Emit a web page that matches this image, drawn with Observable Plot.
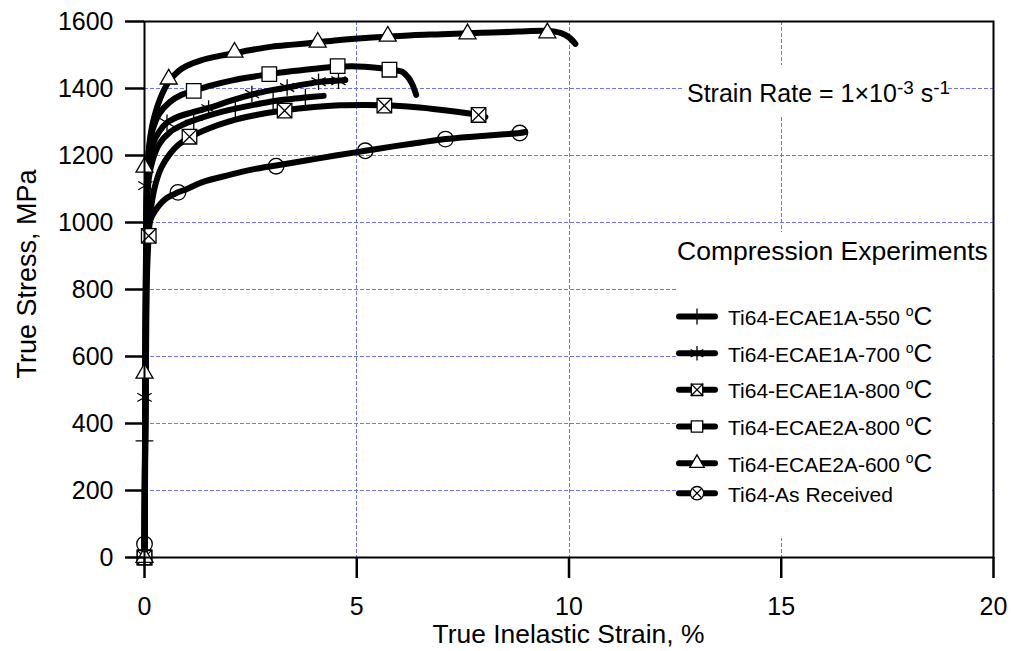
<!DOCTYPE html>
<html><head><meta charset="utf-8">
<script src="https://cdn.jsdelivr.net/npm/d3@7"></script>
<script src="https://cdn.jsdelivr.net/npm/@observablehq/plot@0.6"></script>
<style>body{margin:0;background:#fff}</style>
</head><body><div id="chart"></div>
<script>
// ---------- data ----------
const seriesNames = ["Ti64-ECAE1A-550", "Ti64-ECAE1A-700", "Ti64-ECAE1A-800", "Ti64-ECAE2A-800", "Ti64-ECAE2A-600", "Ti64-As Received"];
const seriesSymbols = ["plus", "asterisk", "crossSquare", "square", "triangle", "circleTimes"];
const seriesUnits = [" \u00b0C", " \u00b0C", " \u00b0C", " \u00b0C", " \u00b0C", ""];

const strain550 = [0, 0.02, 0.04, 0.06, 0.1, 0.2, 0.35, 0.6, 0.9, 1.16, 1.6, 2.14, 2.6, 3.03, 3.4, 3.79, 4.22];
const stress550 = [0, 500, 900, 1040, 1130, 1190, 1235, 1270, 1292, 1305, 1323, 1340, 1352, 1362, 1368, 1373, 1378];
const mkStrain550 = [0, 0, 1.16, 2.14, 3.03, 3.79];
const mkStress550 = [0, 348, 1305, 1340, 1362, 1373];

const strain700 = [0, 0.02, 0.04, 0.07, 0.12, 0.2, 0.35, 0.53, 0.8, 1.1, 1.51, 2.0, 2.53, 3.0, 3.36, 3.8, 4.1, 4.5, 4.73];
const stress700 = [0, 500, 950, 1110, 1190, 1235, 1272, 1298, 1316, 1328, 1342, 1362, 1382, 1395, 1403, 1413, 1419, 1423, 1425];
const mkStrain700 = [0, 0, 0.02, 0.53, 1.51, 2.53, 3.36, 4.1, 4.57];
const mkStress700 = [0, 478, 1110, 1298, 1340, 1384, 1403, 1420, 1423];

const strain1A800 = [0, 0.03, 0.06, 0.1, 0.15, 0.25, 0.4, 0.6, 0.8, 1.06, 1.5, 2.0, 2.6, 3.3, 4.0, 4.6, 5.2, 5.65, 6.2, 6.8, 7.4, 7.87, 8.03];
const stress1A800 = [0, 500, 850, 960, 1040, 1110, 1165, 1205, 1232, 1254, 1280, 1302, 1320, 1335, 1345, 1350, 1351, 1350, 1346, 1339, 1330, 1321, 1315];
const mkStrain1A800 = [0, 0.1, 1.06, 3.3, 5.65, 7.87];
const mkStress1A800 = [0, 960, 1256, 1334, 1349, 1321];

const strain2A800 = [0, 0.02, 0.04, 0.07, 0.12, 0.2, 0.35, 0.6, 0.85, 1.16, 1.6, 2.1, 2.6, 2.94, 3.5, 4.0, 4.55, 5.0, 5.4, 5.77, 6.07, 6.2, 6.3, 6.4];
const stress2A800 = [0, 550, 1000, 1150, 1230, 1280, 1325, 1360, 1380, 1393, 1410, 1425, 1436, 1443, 1452, 1459, 1465, 1466, 1463, 1457, 1450, 1435, 1415, 1381];
const mkStrain2A800 = [0, 1.16, 2.94, 4.55, 5.77];
const mkStress2A800 = [0, 1393, 1443, 1467, 1456];

const strain2A600 = [0, 0.02, 0.04, 0.07, 0.12, 0.2, 0.37, 0.57, 0.8, 1.0, 1.35, 1.8, 2.14, 2.6, 3.0, 3.5, 4.08, 4.6, 5.2, 5.73, 6.3, 7.0, 7.61, 8.2, 8.8, 9.49, 9.8, 10.0, 10.15];
const stress2A600 = [0, 550, 1000, 1165, 1240, 1300, 1370, 1420, 1452, 1468, 1485, 1498, 1506, 1517, 1525, 1531, 1538, 1545, 1551, 1555, 1559, 1562, 1565, 1567, 1570, 1572, 1566, 1553, 1533];
const mkStrain2A600 = [0, 0, 0, 0.57, 2.12, 4.08, 5.73, 7.61, 9.49];
const mkStress2A600 = [0, 550, 1165, 1428, 1508, 1538, 1556, 1563, 1566];

const strainAR = [0, 0.02, 0.04, 0.07, 0.13, 0.25, 0.49, 0.79, 1.0, 1.35, 2.0, 2.61, 3.1, 3.8, 4.5, 5.2, 5.9, 6.5, 7.09, 7.8, 8.4, 8.84, 8.97];
const stressAR = [0, 450, 800, 940, 1005, 1035, 1070, 1090, 1100, 1120, 1142, 1160, 1170, 1185, 1200, 1214, 1228, 1239, 1249, 1257, 1263, 1267, 1270];
const mkStrainAR = [0, 0.79, 3.1, 5.2, 7.09, 8.84];
const mkStressAR = [40, 1090, 1168, 1214, 1249, 1267];

const xTicks = [0, 5, 10, 15, 20];
const yTicks = [0, 200, 400, 600, 800, 1000, 1200, 1400, 1600];
const xGrid = [5, 10, 15];
const yGrid = [200, 400, 600, 800, 1000, 1200, 1400];

const xLabel = "True Inelastic Strain, %";
const yLabel = "True Stress, MPa";
const legendTitle = "Compression Experiments";

// ---------- build tables ----------
const curveStrains = [strain550, strain700, strain1A800, strain2A800, strain2A600, strainAR];
const curveStresses = [stress550, stress700, stress1A800, stress2A800, stress2A600, stressAR];
const mkStrains = [mkStrain550, mkStrain700, mkStrain1A800, mkStrain2A800, mkStrain2A600, mkStrainAR];
const mkStresses = [mkStress550, mkStress700, mkStress1A800, mkStress2A800, mkStress2A600, mkStressAR];

const lines = [];
const markers = [];
seriesNames.forEach((name, i) => {
  curveStrains[i].forEach((x, j) => lines.push({series: name, strain: x, stress: curveStresses[i][j]}));
  mkStrains[i].forEach((x, j) => markers.push({series: name, symbol: seriesSymbols[i], strain: x, stress: mkStresses[i][j]}));
});
const mk = s => markers.filter(d => d.symbol === s);

const FONT = "'Liberation Sans', Arial, Helvetica, sans-serif";

// d3 symbol drawing for the legend
function legendSymbol(g, type, cx, cy) {
  const sym = (t, size, fill) => g.append("path")
    .attr("transform", `translate(${cx},${cy})`)
    .attr("d", d3.symbol(t, size)())
    .attr("fill", fill).attr("stroke", "black").attr("stroke-width", 1.3);
  if (type === "plus") sym(d3.symbolPlus, 85, "none");
  if (type === "asterisk") sym(d3.symbolAsterisk, 150, "none");
  if (type === "square") sym(d3.symbolSquare, 130, "white");
  if (type === "crossSquare") { sym(d3.symbolSquare, 130, "white"); sym(d3.symbolTimes, 100, "none"); }
  if (type === "triangle") sym(d3.symbolTriangle, 90, "white");
  if (type === "circleTimes") { sym(d3.symbolCircle, 140, "white"); sym(d3.symbolTimes, 50, "none"); }
}

function decorations(index, scales, values, dims) {
  const g = d3.create("svg:g").attr("font-family", FONT).attr("fill", "black").attr("text-anchor", "start");
  // white panels behind annotation and legend
  g.append("rect").attr("x", 683).attr("y", 65).attr("width", 265).attr("height", 50).attr("fill", "white");
  g.append("rect").attr("x", 677).attr("y", 232).attr("width", 315).attr("height", 306).attr("fill", "white");

  // strain rate annotation
  const t = g.append("text").attr("x", 687).attr("y", 102).attr("font-size", 25);
  t.append("tspan").text("Strain Rate = 1\u00d710");
  t.append("tspan").attr("font-size", 19).attr("dy", -8).text("-3");
  t.append("tspan").attr("dy", 8).text(" s");
  t.append("tspan").attr("font-size", 19).attr("dy", -8).text("-1");

  // legend
  g.append("text").attr("x", 677).attr("y", 260).attr("font-size", 26.5).text(legendTitle);
  const baselines = [325, 361.7, 398.3, 435, 471.7, 501.7];
  seriesNames.forEach((name, i) => {
    const cy = baselines[i] - 8.5;
    g.append("line").attr("x1", 679).attr("x2", 715).attr("y1", cy).attr("y2", cy)
      .attr("stroke", "black").attr("stroke-width", 6).attr("stroke-linecap", "round");
    legendSymbol(g, seriesSymbols[i], 697, cy);
    const tx = g.append("text").attr("x", 728).attr("y", baselines[i]).attr("font-size", 21);
    tx.append("tspan").text(name + (seriesUnits[i] ? " " : ""));
    if (seriesUnits[i]) {
      tx.append("tspan").attr("font-size", 14).attr("dy", -9).text("o");
      tx.append("tspan").attr("font-size", 26).attr("dy", 9).text("C");
    }
  });

  // axis titles
  g.append("text").attr("x", 568.5).attr("y", 643).attr("font-size", 26.4)
    .attr("text-anchor", "middle").text(xLabel);
  g.append("text").attr("transform", "translate(36,274) rotate(-90)").attr("font-size", 27)
    .attr("text-anchor", "middle").text(yLabel);
  return g.node();
}

const dotBase = {x: "strain", y: "stress", stroke: "black", strokeWidth: 1.3};
const gridStyle = {stroke: "#7070ff", strokeOpacity: 1, strokeWidth: 1, strokeDasharray: "4,2", shapeRendering: "crispEdges"};

const chart = Plot.plot({
  width: 1011,
  height: 651,
  marginLeft: 144,
  marginRight: 18,
  marginTop: 21,
  marginBottom: 94,
  style: {fontFamily: FONT, background: "white", color: "black"},
  x: {domain: [0, 20]},
  y: {domain: [0, 1600]},
  marks: [
    Plot.gridX(xGrid, gridStyle),
    Plot.gridY(yGrid, gridStyle),
    decorations,
    Plot.line(lines, {x: "strain", y: "stress", z: "series", stroke: "black", strokeWidth: 6,
      curve: "catmull-rom", strokeLinejoin: "round", strokeLinecap: "round"}),
    Plot.dot(mk("plus"), {...dotBase, symbol: "plus", r: 5.8, fill: "none"}),
    Plot.dot(mk("asterisk"), {...dotBase, symbol: "asterisk", r: 7.8, fill: "none"}),
    Plot.dot(mk("square"), {...dotBase, symbol: "square", r: 8.2, fill: "white"}),
    Plot.dot(mk("crossSquare"), {...dotBase, symbol: "square", r: 8.2, fill: "white"}),
    Plot.dot(mk("crossSquare"), {...dotBase, symbol: "times", r: 6.5, fill: "none"}),
    Plot.dot(mk("triangle"), {...dotBase, symbol: "triangle", r: 6.3, fill: "white"}),
    Plot.dot(mk("circleTimes"), {...dotBase, symbol: "circle", r: 7.8, fill: "none"}),
    Plot.frame({stroke: "black", strokeWidth: 2}),
    Plot.axisX({ticks: xTicks, tickSize: 21, tickPadding: 19, fontSize: 25, label: null, strokeWidth: 2.5, tickFormat: d => String(d)}),
    Plot.axisY({ticks: yTicks, tickSize: 19, tickPadding: 12, fontSize: 25, label: null, strokeWidth: 2.5, tickFormat: d => String(d)})
  ]
});
document.getElementById("chart").appendChild(chart);
</script></body></html>
